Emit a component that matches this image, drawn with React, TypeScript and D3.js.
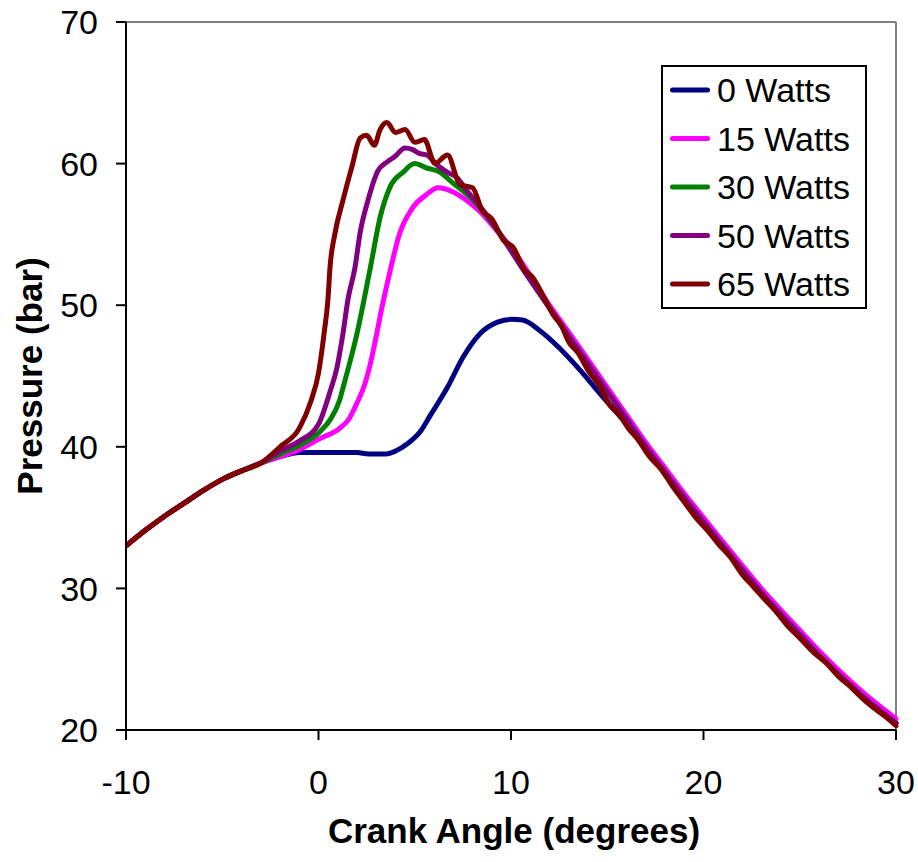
import React from "react";
import * as d3 from "d3";

// ---------- Data ----------
const xTicks = [-10, 0, 10, 20, 30];
const yTicks = [20, 30, 40, 50, 60, 70];
const seriesNames = ["0 Watts", "15 Watts", "30 Watts", "50 Watts", "65 Watts"];
const seriesColors = ["#000080", "#FF00FF", "#008000", "#800080", "#800000"];

// shared compression stroke (all loads identical)
const compressionAngle = [-10, -9, -8, -7, -6, -5, -4, -3];
const compressionPressure = [33.0, 34.1, 35.1, 36.0, 36.9, 37.7, 38.3, 38.85];

// 0 Watts
const angle0 = [-2, -1, 0, 1, 2, 2.6, 3.5, 4.0, 4.6, 5.3, 5.8, 6.7, 7.5, 8.4, 9.3, 10.0, 10.6, 11.5, 12.5, 13.6, 14.6, 15.7, 16.5,
  17, 18, 19, 20, 21, 22, 23, 24, 25, 26, 27, 28, 29, 30];
const pressure0 = [39.3, 39.6, 39.6, 39.6, 39.6, 39.5, 39.5, 39.7, 40.2, 41.1, 42.2, 44.2, 46.3, 48.0, 48.8, 49.0, 48.95, 48.2, 47.0, 45.4, 43.8, 42.1, 40.9,
  40.0, 38.2, 36.4, 34.7, 33.0, 31.35, 29.7, 28.2, 26.75, 25.3, 23.95, 22.7, 21.55, 20.5];

// 15 Watts
const angle15 = [-2, -1, 0.1, 1.1, 1.6, 2.0, 2.4, 2.7, 3.0, 3.2, 3.7, 4.2, 4.9, 5.6, 6.2, 7.0, 7.7, 8.4, 9.3, 10, 11, 12,
  13, 14, 15, 16, 17, 18, 19, 20, 21, 22, 23, 24, 25, 26, 27, 28, 29, 30];
const pressure15 = [39.3, 39.8, 40.6, 41.3, 42.0, 43.1, 44.4, 45.9, 47.8, 49.2, 52.3, 55.0, 56.9, 57.8, 58.3, 58.0, 57.4, 56.6, 55.2, 54.1, 52.1, 50.0,
  48.1, 46.15, 44.2, 42.25, 40.3, 38.5, 36.7, 35.0, 33.3, 31.65, 30.0, 28.5, 27.05, 25.6, 24.25, 23.0, 21.85, 20.8];

// 30 Watts
const angle30 = [-2, -1, 0.1, 0.6, 1.1, 1.3, 2.0, 2.7, 3.2, 3.7, 4.4, 5.0, 5.6, 6.3, 7.0, 7.9, 8.5, 9.4, 10.5, 11.9,
  13, 14, 15, 16, 17, 18, 19, 20, 21, 22, 23, 24, 25, 26, 27, 28, 29, 30];
const pressure30 = [39.5, 40.1, 41.1, 41.9, 43.3, 44.3, 48.0, 52.7, 56.2, 58.3, 59.4, 60.0, 59.7, 59.4, 58.6, 57.6, 56.7, 55.1, 52.8, 50.0,
  47.8, 45.85, 43.9, 41.95, 40.0, 38.2, 36.4, 34.7, 33.0, 31.35, 29.7, 28.2, 26.75, 25.3, 23.95, 22.7, 21.55, 20.5];

// 50 Watts
const angle50 = [-2, -1, 0.0, 0.6, 0.96, 1.27, 1.53, 1.9, 2.16, 2.57, 3.09, 3.55, 3.97, 4.49, 4.86, 5.27, 5.64, 6.16, 6.68, 7.2, 7.7, 8.5, 9.4, 10.5, 11.9,
  13, 14, 15, 16, 17, 18, 19, 20, 21, 22, 23, 24, 25, 26, 27, 28, 29, 30];
const pressure50 = [39.7, 40.4, 41.6, 43.9, 45.6, 48.0, 50.4, 52.7, 55.1, 57.4, 59.5, 60.1, 60.5, 61.1, 61.0, 60.7, 60.6, 59.9, 59.4, 59.0, 58.1, 56.8, 55.1, 52.8, 50.0,
  47.8, 45.85, 43.9, 41.95, 40.0, 38.2, 36.4, 34.7, 33.0, 31.35, 29.7, 28.2, 26.75, 25.3, 23.95, 22.7, 21.55, 20.5];

// 65 Watts
const angle65 = [-2, -1, -0.4, 0.0, 0.29, 0.49, 0.6, 0.86, 1.27, 1.74, 2.16, 2.5, 2.9, 3.2, 3.55, 4.0, 4.5, 5.0, 5.5, 6.05, 6.7, 7.35, 8.0, 8.5, 9.0, 9.6, 10.1, 10.7, 11.1, 11.7,
  12.2, 12.6, 13.0, 13.5, 14.0, 14.6, 15.1, 15.6, 16.1, 16.6, 17.2, 17.8, 18.4, 19.0, 19.6, 20.2, 20.8, 21.4, 22.0, 22.6, 23.2, 23.8, 24.4, 25.0, 25.7, 26.4, 27.0, 27.6, 28.2, 28.8, 29.4, 30.0];
const pressure65 = [40.0, 41.3, 43.2, 45.2, 48.0, 50.4, 52.7, 55.1, 57.4, 59.8, 61.8, 62.0, 61.3, 62.4, 62.9, 62.2, 62.4, 61.5, 61.7, 60.0, 60.6, 58.5, 58.3, 56.7, 56.1, 54.6, 54.1, 52.5, 52.0, 50.6,
  49.3, 48.6, 47.4, 46.6, 45.4, 44.3, 43.0, 42.3, 41.3, 40.5, 39.3, 38.4, 37.2, 36.1, 35.0, 34.1, 33.1, 32.2, 31.0, 30.1, 29.2, 28.3, 27.3, 26.5, 25.5, 24.7, 23.8, 23.1, 22.3, 21.6, 21.0, 20.3];

const seriesAngles = [angle0, angle15, angle30, angle50, angle65];
const seriesPressures = [pressure0, pressure15, pressure30, pressure50, pressure65];

// ---------- Layout ----------
const W = 918;
const H = 862;
const left = 126, right = 896, top = 22, bottom = 730;
const FONT = "'Liberation Sans', Arial, Helvetica, sans-serif";

export default function App() {
  const x = d3.scaleLinear().domain([-10, 30]).range([left, right]);
  const y = d3.scaleLinear().domain([20, 70]).range([bottom, top]);

  const line = d3
    .line<[number, number]>()
    .x((d) => x(d[0]))
    .y((d) => y(d[1]))
    .curve(d3.curveMonotoneX);

  const paths = seriesAngles.map((angles, i) => {
    const pts: [number, number][] = [];
    compressionAngle.forEach((a, j) => pts.push([a, compressionPressure[j]]));
    angles.forEach((a, j) => pts.push([a, seriesPressures[i][j]]));
    return line(pts) || "";
  });

  const legendX = 662, legendY = 66, legendW = 204, legendH = 242;
  const rowY = (i: number) => 90 + i * 48.5;

  return (
    <svg
      width={W}
      height={H}
      style={{ position: "absolute", left: 0, top: 0, background: "#fff" }}
      fontFamily={FONT}
    >
      <rect x={0} y={0} width={W} height={H} fill="#fff" />
      <defs>
        <clipPath id="plotClip">
          <rect x={left} y={top - 5} width={right - left + 3} height={bottom - top + 8} />
        </clipPath>
      </defs>

      {/* plot frame: gray top & right */}
      <line x1={left} y1={top} x2={right} y2={top} stroke="#808080" strokeWidth={2} />
      <line x1={right} y1={top} x2={right} y2={bottom} stroke="#808080" strokeWidth={2} />

      {/* series */}
      <g clipPath="url(#plotClip)">
        {paths.map((p, i) => (
          <path
            key={i}
            d={p}
            fill="none"
            stroke={seriesColors[i]}
            strokeWidth={5}
            strokeLinejoin="round"
            strokeLinecap="round"
          />
        ))}
      </g>

      {/* axes */}
      <line x1={left} y1={top} x2={left} y2={bottom} stroke="#000" strokeWidth={2} />
      <line x1={left - 10} y1={bottom} x2={right} y2={bottom} stroke="#000" strokeWidth={2} />

      {yTicks.map((t) => (
        <g key={"y" + t}>
          <line x1={left - 10} x2={left} y1={y(t)} y2={y(t)} stroke="#000" strokeWidth={2} />
          <text
            x={left - 28}
            y={y(t)}
            dy="0.36em"
            textAnchor="end"
            fontSize={34}
            fill="#000"
          >
            {t}
          </text>
        </g>
      ))}

      {xTicks.map((t) => (
        <g key={"x" + t}>
          <line x1={x(t)} x2={x(t)} y1={bottom} y2={bottom + 10} stroke="#000" strokeWidth={2} />
          <text x={x(t)} y={794} textAnchor="middle" fontSize={34} fill="#000">
            {t}
          </text>
        </g>
      ))}

      {/* axis titles */}
      <text x={(left + right) / 2 + 3} y={843} textAnchor="middle" fontSize={35} fontWeight="bold" fill="#000">
        Crank Angle (degrees)
      </text>
      <text
        transform={`translate(42, ${(top + bottom) / 2}) rotate(-90)`}
        textAnchor="middle"
        fontSize={35}
        fontWeight="bold"
        fill="#000"
      >
        Pressure (bar)
      </text>

      {/* legend */}
      <rect x={legendX} y={legendY} width={legendW} height={legendH} fill="#fff" stroke="#000" strokeWidth={2} />
      {seriesNames.map((name, i) => (
        <g key={name}>
          <line
            x1={672.5}
            x2={707.5}
            y1={rowY(i)}
            y2={rowY(i)}
            stroke={seriesColors[i]}
            strokeWidth={5}
            strokeLinecap="round"
          />
          <text x={717} y={rowY(i)} dy="0.36em" fontSize={34} fill="#000">
            {name}
          </text>
        </g>
      ))}
    </svg>
  );
}
